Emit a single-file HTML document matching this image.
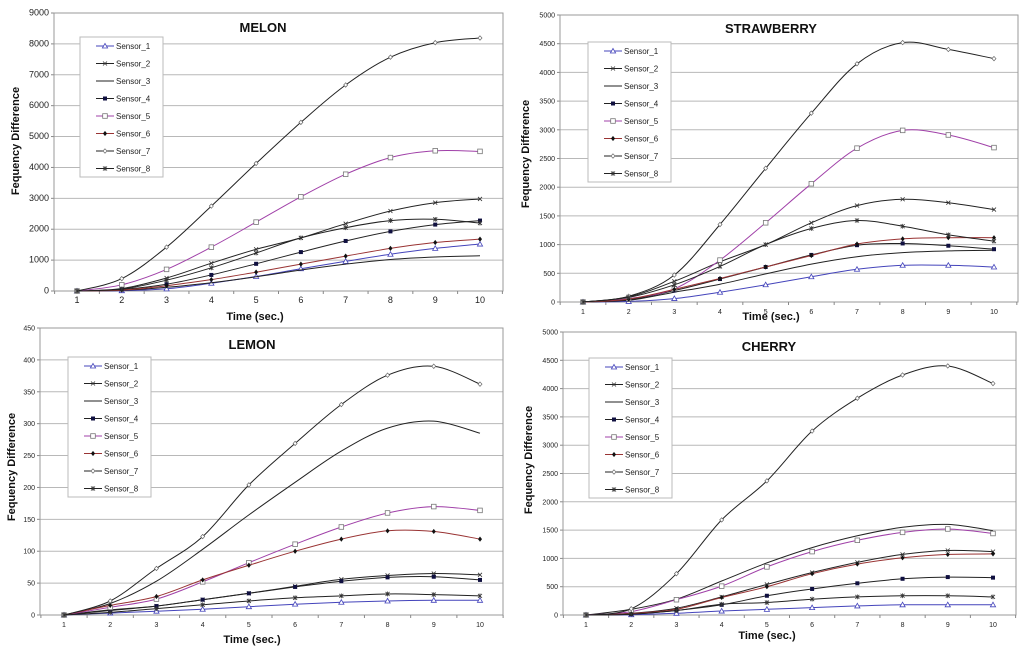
<!DOCTYPE html>
<html><head><meta charset="utf-8">
<style>
html,body{margin:0;padding:0;background:#fff;}
svg{display:block;font-family:"Liberation Sans",Arial,sans-serif;}
</style></head>
<body>
<svg id="chart" width="1024" height="650" viewBox="0 0 1024 650" xmlns="http://www.w3.org/2000/svg"></svg>
<script>
const categories = [1,2,3,4,5,6,7,8,9,10];
const seriesNames = ["Sensor_1","Sensor_2","Sensor_3","Sensor_4","Sensor_5","Sensor_6","Sensor_7","Sensor_8"];
const melonTicks = [0,1000,2000,3000,4000,5000,6000,7000,8000,9000];
const strawberryTicks = [0,500,1000,1500,2000,2500,3000,3500,4000,4500,5000];
const lemonTicks = [0,50,100,150,200,250,300,350,400,450];
const cherryTicks = [0,500,1000,1500,2000,2500,3000,3500,4000,4500,5000];
const melonValues = [
 [0,10,70,250,470,720,960,1190,1380,1520],
 [0,80,420,900,1350,1720,2180,2590,2860,2980],
 [0,20,120,270,460,680,870,1020,1100,1140],
 [0,50,220,520,880,1260,1620,1930,2150,2280],
 [0,200,700,1420,2230,3050,3780,4320,4540,4520],
 [0,30,170,370,610,870,1130,1380,1570,1680],
 [0,400,1420,2750,4130,5460,6670,7570,8040,8190],
 [0,60,350,750,1230,1720,2050,2280,2320,2200]
];
const strawberryValues = [
 [0,10,60,170,300,440,570,640,640,610],
 [0,90,360,700,1000,1380,1680,1790,1730,1610],
 [0,30,170,310,490,660,790,860,890,900],
 [0,40,200,400,610,820,990,1020,980,920],
 [0,60,230,730,1380,2060,2680,2990,2910,2690],
 [0,50,220,410,610,810,1010,1100,1120,1120],
 [0,100,470,1350,2330,3290,4150,4520,4400,4240],
 [0,80,300,620,1000,1280,1420,1320,1170,1060]
];
const lemonValues = [
 [0,3,6,9,13,17,20,22,23,23],
 [0,8,14,24,34,45,56,62,65,63],
 [0,18,53,103,157,208,257,293,304,285],
 [0,7,14,24,34,44,53,59,60,55],
 [0,12,25,52,82,111,138,160,170,164],
 [0,15,29,55,78,100,119,132,131,119],
 [0,22,73,123,204,269,330,376,390,362],
 [0,4,10,16,22,27,30,33,32,30]
];
const cherryValues = [
 [0,5,30,70,100,130,160,180,180,180],
 [0,30,120,320,540,750,930,1070,1140,1120],
 [0,100,280,600,920,1190,1400,1550,1600,1490],
 [0,15,80,180,340,460,560,640,670,660],
 [0,60,270,510,850,1120,1320,1460,1520,1440],
 [0,25,100,310,500,730,900,1010,1070,1080],
 [0,110,730,1680,2370,3250,3830,4240,4400,4090],
 [0,15,80,190,220,280,320,340,340,320]
];

const NS="http://www.w3.org/2000/svg";
const svg=document.getElementById('chart');
function mk(tag,attrs,parent){const e=document.createElementNS(NS,tag);for(const k in attrs)e.setAttribute(k,attrs[k]);(parent||svg).appendChild(e);return e;}
const lineColors=["#4444bb","#222","#222","#222","#a040a8","#993333","#222","#222"];

function marker(g,i,x,y){
  let m;
  if(i===0){m=mk('path',{d:`M${x},${y-2.6}L${x+2.6},${y+2}L${x-2.6},${y+2}Z`,fill:'#fff',stroke:'#4444bb','stroke-width':0.8},g);}
  else if(i===1||i===7){m=mk('path',{d:`M${x-2},${y-2}L${x+2},${y+2}M${x-2},${y+2}L${x+2},${y-2}`+(i===7?`M${x},${y-2.4}L${x},${y+2.4}`:''),stroke:'#333','stroke-width':0.8,fill:'none'},g);}
  else if(i===3){m=mk('rect',{x:x-2,y:y-2,width:4,height:4,fill:'#101040'},g);}
  else if(i===4){m=mk('rect',{x:x-2.3,y:y-2.3,width:4.6,height:4.6,fill:'#fff',stroke:'#777','stroke-width':0.8},g);}
  else if(i===5){m=mk('path',{d:`M${x},${y-2.6}L${x+2},${y}L${x},${y+2.6}L${x-2},${y}Z`,fill:'#111'},g);}
  else if(i===6){m=mk('path',{d:`M${x},${y-2.2}L${x+2},${y}L${x},${y+2.2}L${x-2},${y}Z`,fill:'#fff',stroke:'#666','stroke-width':0.7},g);}
  if(m){}
}

function smoothPath(pts){
  let d=`M${pts[0][0]},${pts[0][1]}`;
  for(let i=0;i<pts.length-1;i++){
    const p0=pts[i-1]||pts[i],p1=pts[i],p2=pts[i+1],p3=pts[i+2]||p2;
    const c1=[p1[0]+(p2[0]-p0[0])/6,p1[1]+(p2[1]-p0[1])/6];
    const c2=[p2[0]-(p3[0]-p1[0])/6,p2[1]-(p3[1]-p1[1])/6];
    d+=`C${c1[0].toFixed(1)},${c1[1].toFixed(1)} ${c2[0].toFixed(1)},${c2[1].toFixed(1)} ${p2[0]},${p2[1].toFixed(1)}`;
  }
  return d;
}

function panel(cfg){
  const g=mk('g',{});
  
  
  const ymax=cfg.ticks[cfg.ticks.length-1];
  const yS=v=>cfg.bottom-(v/ymax)*(cfg.bottom-cfg.top);
  const xS=c=>cfg.x1+(c-categories[0])*(cfg.x10-cfg.x1)/(categories[categories.length-1]-categories[0]);
  // gridlines & y ticks
  cfg.ticks.forEach(t=>{
    const y=yS(t);
    const gl=mk('line',{x1:cfg.left,x2:cfg.right,y1:y,y2:y,stroke:'#b8b8b8','stroke-width':1},g);
    
    
    mk('line',{x1:cfg.left-3,x2:cfg.left,y1:y,y2:y,stroke:'#888','stroke-width':1},g);
    const tl=mk('text',{x:cfg.left-5,y:y+2.5,'font-size':cfg.tickSize,'text-anchor':'end',fill:'#222'},g);
    tl.textContent=t;
    
    
  });
  const box=mk('rect',{x:cfg.left,y:cfg.top,width:cfg.right-cfg.left,height:cfg.bottom-cfg.top,fill:'none',stroke:'#999','stroke-width':1},g);
  
  
  const step=(cfg.x10-cfg.x1)/9;
  for(let k=0;k<=10;k++){
    const x=cfg.x1-step/2+k*step;
    mk('line',{x1:x,x2:x,y1:cfg.bottom,y2:cfg.bottom+3,stroke:'#888','stroke-width':1},g);
  }
  categories.forEach(c=>{
    const tl=mk('text',{x:xS(c),y:cfg.bottom+12,'font-size':cfg.tickSize,'text-anchor':'middle',fill:'#222'},g);
    tl.textContent=c;
    
    
  });
  const tt=mk('text',{x:cfg.titleX,y:cfg.titleY,'font-size':13,'font-weight':'bold','text-anchor':'middle',fill:'#111'},g);
  tt.textContent=cfg.title;
  
  
  const xl=mk('text',{x:cfg.xlabX,y:cfg.xlabY,'font-size':11,'font-weight':'bold','text-anchor':'middle',fill:'#111'},g);
  xl.textContent='Time (sec.)';
  
  
  const yl=mk('text',{x:0,y:0,'font-size':11,'font-weight':'bold','text-anchor':'middle',fill:'#111',transform:`translate(${cfg.ylabX},${cfg.ylabY}) rotate(-90)`},g);
  yl.textContent='Fequency Difference';
  
  
  // series
  cfg.values.forEach((vals,i)=>{
    const sg=mk('g',{},g);
    
    
    const pts=categories.map((c,j)=>[xS(c),yS(vals[j])]);
    const p=mk('path',{d:smoothPath(pts),fill:'none',stroke:lineColors[i],'stroke-width':1},sg);
    
    
    if(i!==2) pts.forEach(pt=>marker(sg,i,pt[0],pt[1]));
  });
  // legend
  const lg=mk('g',{},g);
  
  
  mk('rect',{x:cfg.legX,y:cfg.legY,width:83,height:140,fill:'#fff',stroke:'#bbb','stroke-width':1},lg);
  seriesNames.forEach((n,i)=>{
    const y=cfg.legY+9+i*17.5;
    const e=mk('g',{},lg);
    
    
    mk('line',{x1:cfg.legX+16,x2:cfg.legX+34,y1:y,y2:y,stroke:lineColors[i],'stroke-width':1},e);
    if(i!==2) marker(e,i,cfg.legX+25,y);
    const t=mk('text',{x:cfg.legX+36,y:y+3,'font-size':8,fill:'#222'},e);
    t.textContent=n;
  });
}

panel({name:'melon',title:'MELON',values:melonValues,ticks:melonTicks,left:54,right:503,top:13,bottom:291,x1:77,x10:480,titleX:263,titleY:32,xlabX:255,xlabY:320,ylabX:19,ylabY:141,legX:80,legY:37,tickSize:9});
panel({name:'strawberry',title:'STRAWBERRY',values:strawberryValues,ticks:strawberryTicks,left:560,right:1018,top:15,bottom:302,x1:583,x10:994,titleX:771,titleY:33,xlabX:771,xlabY:320,ylabX:529,ylabY:154,legX:588,legY:42,tickSize:7});
panel({name:'lemon',title:'LEMON',values:lemonValues,ticks:lemonTicks,left:40,right:503,top:328,bottom:615,x1:64,x10:480,titleX:252,titleY:349,xlabX:252,xlabY:643,ylabX:15,ylabY:467,legX:68,legY:357,tickSize:7});
panel({name:'cherry',title:'CHERRY',values:cherryValues,ticks:cherryTicks,left:563,right:1016,top:332,bottom:615,x1:586,x10:993,titleX:769,titleY:351,xlabX:767,xlabY:639,ylabX:532,ylabY:460,legX:589,legY:358,tickSize:7});
</script>
</body></html>
